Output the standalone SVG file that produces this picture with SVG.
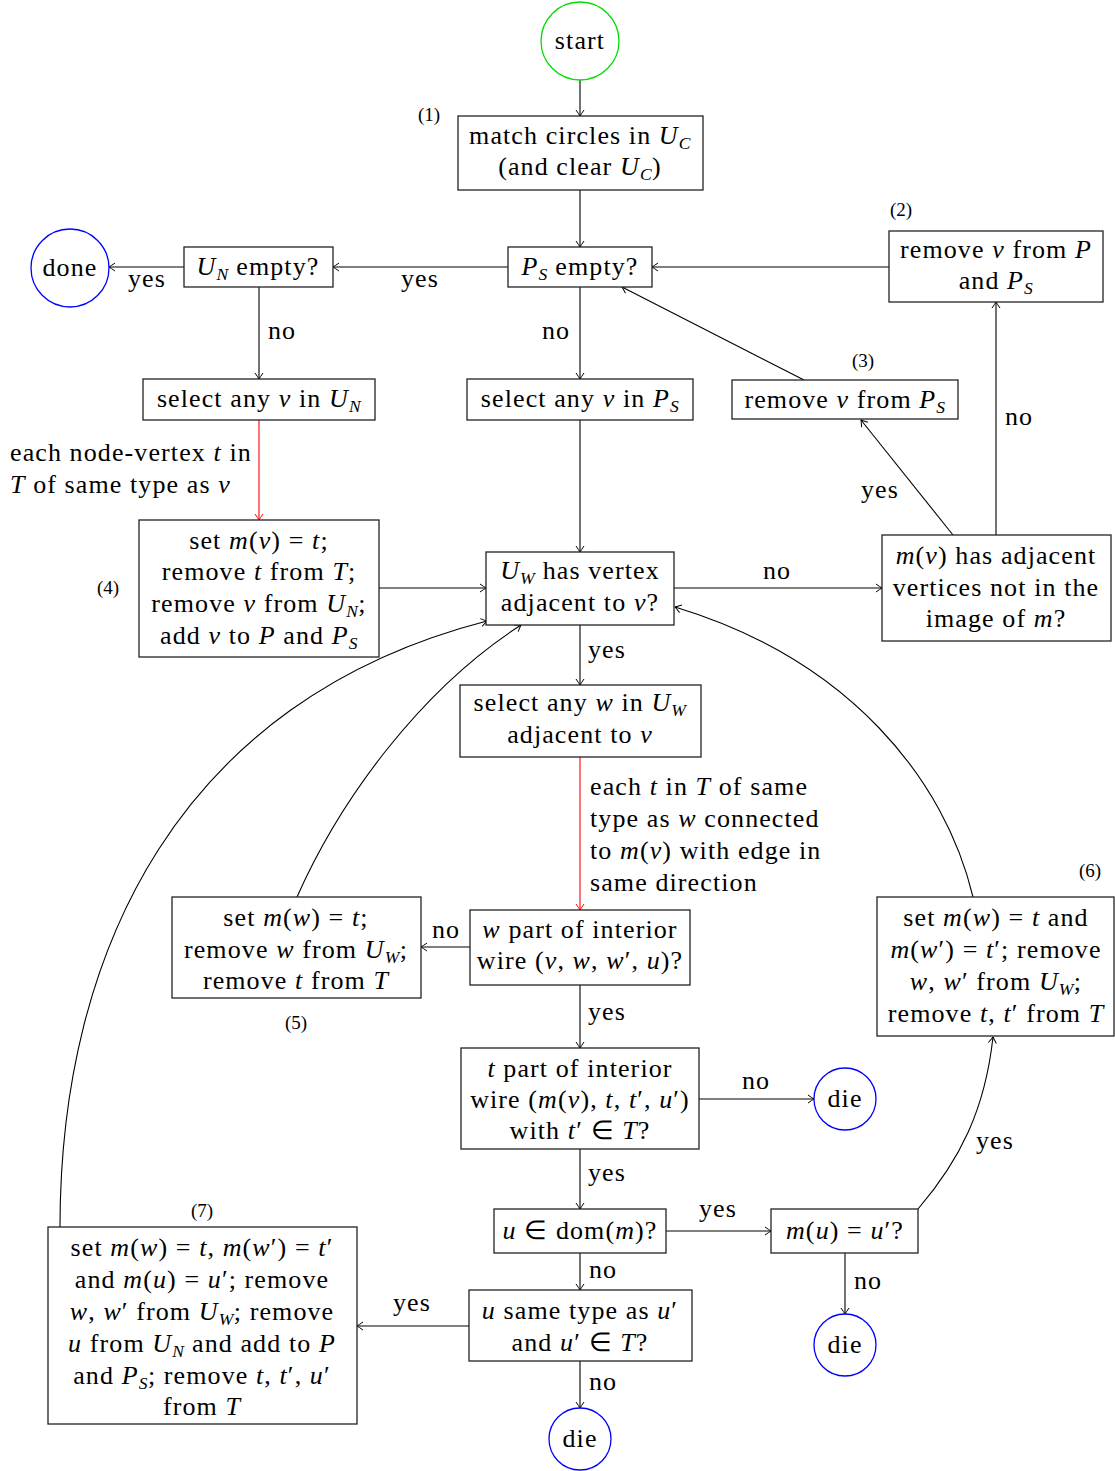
<svg xmlns="http://www.w3.org/2000/svg" width="1115" height="1471" viewBox="0 0 1115 1471">
<defs>
  <marker id="arr" viewBox="-8 -5 10 10" refX="0" refY="0" markerWidth="10" markerHeight="10" markerUnits="userSpaceOnUse" orient="auto">
    <path d="M-6,-4 Q-2,-1.2 0,0 Q-2,1.2 -6,4" fill="none" stroke="#000" stroke-width="1"/>
  </marker>
  <marker id="arrR" viewBox="-8 -5 10 10" refX="0" refY="0" markerWidth="10" markerHeight="10" markerUnits="userSpaceOnUse" orient="auto">
    <path d="M-6,-4 Q-2,-1.2 0,0 Q-2,1.2 -6,4" fill="none" stroke="#f00" stroke-width="1"/>
  </marker>
</defs>
<style>
  .box { fill: #fff; stroke: #222; stroke-width: 1.3; }
  .term { fill: #fff; stroke-width: 1.3; }
  .t { font-family: "Liberation Serif", "Times New Roman", serif; font-size: 26px; fill: #000; letter-spacing: 1.1px; }
  .c { text-anchor: middle; }
  .m { font-style: italic; }
  .s { font-size: 17.5px; font-style: italic; letter-spacing: 0.5px; }
  .n { font-family: "Liberation Serif", "Times New Roman", serif; font-size: 19px; fill: #000; text-anchor: middle; }
  .e { fill: none; stroke: #000; stroke-width: 1.1; marker-end: url(#arr); }
  .er { fill: none; stroke: #f00; stroke-width: 1.1; marker-end: url(#arrR); }
</style>
<rect width="1115" height="1471" fill="#fff"/>

<!-- connectors -->
<g id="connectors">
  <path class="e" d="M580,80 V116"/>
  <path class="e" d="M580,190 V247"/>
  <path class="e" d="M889,267 H652"/>
  <path class="e" d="M508,267 H333"/>
  <path class="e" d="M184,267 H109"/>
  <path class="e" d="M259,287 V379"/>
  <path class="e" d="M580,287 V379"/>
  <path class="er" d="M259,420 V520"/>
  <path class="e" d="M580,420 V552"/>
  <path class="e" d="M379,588 H486"/>
  <path class="e" d="M674,588 H882"/>
  <path class="e" d="M953,535 L861,420"/>
  <path class="e" d="M996,535 V302"/>
  <path class="e" d="M804,380 L622,287"/>
  <path class="e" d="M580,625 V685"/>
  <path class="er" d="M580,757 V910"/>
  <path class="e" d="M470,947 H421"/>
  <path class="e" d="M297,897 C340,800 420,690 521,625"/>
  <path class="e" d="M60,1227 C60,950 180,700 487,621"/>
  <path class="e" d="M973,897 C945,780 850,660 675,607"/>
  <path class="e" d="M580,985 V1048"/>
  <path class="e" d="M699,1099 H814"/>
  <path class="e" d="M580,1149 V1209"/>
  <path class="e" d="M666,1231 H771"/>
  <path class="e" d="M918,1209 C960,1160 985,1110 993,1037"/>
  <path class="e" d="M845,1253 V1314"/>
  <path class="e" d="M580,1253 V1290"/>
  <path class="e" d="M469,1326 H357"/>
  <path class="e" d="M580,1361 V1408"/>
</g>

<!-- connector labels -->
<g id="edge-labels" class="t c">
  <text x="420" y="287">yes</text>
  <text x="147" y="287">yes</text>
  <text x="282" y="339">no</text>
  <text x="556" y="339">no</text>
  <text x="880" y="498">yes</text>
  <text x="1019" y="425">no</text>
  <text x="777" y="579">no</text>
  <text x="607" y="658">yes</text>
  <text x="446" y="938">no</text>
  <text x="607" y="1020">yes</text>
  <text x="756" y="1089">no</text>
  <text x="607" y="1181">yes</text>
  <text x="718" y="1217">yes</text>
  <text x="603" y="1278">no</text>
  <text x="868" y="1289">no</text>
  <text x="412" y="1311">yes</text>
  <text x="603" y="1390">no</text>
  <text x="995" y="1149">yes</text>
  <text x="10" y="461" text-anchor="start">each node-vertex <tspan class="m">t</tspan> in</text>
  <text x="10" y="493" text-anchor="start"><tspan class="m">T</tspan> of same type as <tspan class="m">v</tspan></text>
  <text x="590" y="795" text-anchor="start">each <tspan class="m">t</tspan> in <tspan class="m">T</tspan> of same</text>
  <text x="590" y="827" text-anchor="start">type as <tspan class="m">w</tspan> connected</text>
  <text x="590" y="859" text-anchor="start">to <tspan class="m">m</tspan>(<tspan class="m">v</tspan>) with edge in</text>
  <text x="590" y="891" text-anchor="start">same direction</text>
</g>

<!-- step numbers -->
<g id="step-numbers">
  <text class="n" x="429" y="121">(1)</text>
  <text class="n" x="901" y="216">(2)</text>
  <text class="n" x="863" y="367">(3)</text>
  <text class="n" x="108" y="594">(4)</text>
  <text class="n" x="296" y="1029">(5)</text>
  <text class="n" x="1090" y="877">(6)</text>
  <text class="n" x="202" y="1217">(7)</text>
</g>

<g id="start">
  <circle class="term" cx="580" cy="41" r="39" stroke="#0d0"/>
  <text class="t c" x="580" y="49">start</text>
</g>

<g id="match-circles">
  <rect class="box" x="458" y="116" width="245" height="74"/>
  <text class="t c" x="580" y="144">match circles in <tspan class="m">U</tspan><tspan class="s" dy="5">C</tspan></text>
  <text class="t c" x="580" y="175">(and clear <tspan class="m">U</tspan><tspan class="s" dy="5">C</tspan><tspan dy="-5">)</tspan></text>
</g>

<g id="ps-empty">
  <rect class="box" x="508" y="247" width="144" height="40"/>
  <text class="t c" x="580" y="275"><tspan class="m">P</tspan><tspan class="s" dy="5">S</tspan><tspan dy="-5"> empty?</tspan></text>
</g>

<g id="un-empty">
  <rect class="box" x="184" y="247" width="149" height="40"/>
  <text class="t c" x="258" y="275"><tspan class="m">U</tspan><tspan class="s" dy="5">N</tspan><tspan dy="-5"> empty?</tspan></text>
</g>

<g id="done">
  <circle class="term" cx="70" cy="268" r="39" stroke="#00f"/>
  <text class="t c" x="70" y="276">done</text>
</g>

<g id="remove-v-p-ps">
  <rect class="box" x="889" y="231" width="214" height="71"/>
  <text class="t c" x="996" y="258">remove <tspan class="m">v</tspan> from <tspan class="m">P</tspan></text>
  <text class="t c" x="996" y="289">and <tspan class="m">P</tspan><tspan class="s" dy="5">S</tspan></text>
</g>

<g id="select-v-un">
  <rect class="box" x="143" y="379" width="232" height="41"/>
  <text class="t c" x="259" y="407">select any <tspan class="m">v</tspan> in <tspan class="m">U</tspan><tspan class="s" dy="5">N</tspan></text>
</g>

<g id="select-v-ps">
  <rect class="box" x="467" y="379" width="226" height="41"/>
  <text class="t c" x="580" y="407">select any <tspan class="m">v</tspan> in <tspan class="m">P</tspan><tspan class="s" dy="5">S</tspan></text>
</g>

<g id="remove-v-ps">
  <rect class="box" x="732" y="380" width="226" height="39"/>
  <text class="t c" x="845" y="408">remove <tspan class="m">v</tspan> from <tspan class="m">P</tspan><tspan class="s" dy="5">S</tspan></text>
</g>

<g id="set-mv">
  <rect class="box" x="139" y="520" width="240" height="137"/>
  <text class="t c" x="259" y="549">set <tspan class="m">m</tspan>(<tspan class="m">v</tspan>) = <tspan class="m">t</tspan>;</text>
  <text class="t c" x="259" y="580">remove <tspan class="m">t</tspan> from <tspan class="m">T</tspan>;</text>
  <text class="t c" x="259" y="612">remove <tspan class="m">v</tspan> from <tspan class="m">U</tspan><tspan class="s" dy="5">N</tspan><tspan dy="-5">;</tspan></text>
  <text class="t c" x="259" y="644">add <tspan class="m">v</tspan> to <tspan class="m">P</tspan> and <tspan class="m">P</tspan><tspan class="s" dy="5">S</tspan></text>
</g>

<g id="uw-adjacent">
  <rect class="box" x="486" y="552" width="188" height="73"/>
  <text class="t c" x="580" y="579"><tspan class="m">U</tspan><tspan class="s" dy="5">W</tspan><tspan dy="-5"> has vertex</tspan></text>
  <text class="t c" x="580" y="611">adjacent to <tspan class="m">v</tspan>?</text>
</g>

<g id="mv-adjacent">
  <rect class="box" x="882" y="535" width="229" height="106"/>
  <text class="t c" x="996" y="564"><tspan class="m">m</tspan>(<tspan class="m">v</tspan>) has adjacent</text>
  <text class="t c" x="996" y="596">vertices not in the</text>
  <text class="t c" x="996" y="627">image of <tspan class="m">m</tspan>?</text>
</g>

<g id="select-w">
  <rect class="box" x="460" y="685" width="241" height="72"/>
  <text class="t c" x="580" y="711">select any <tspan class="m">w</tspan> in <tspan class="m">U</tspan><tspan class="s" dy="5">W</tspan></text>
  <text class="t c" x="580" y="743">adjacent to <tspan class="m">v</tspan></text>
</g>

<g id="set-mw">
  <rect class="box" x="172" y="897" width="249" height="101"/>
  <text class="t c" x="296" y="926">set <tspan class="m">m</tspan>(<tspan class="m">w</tspan>) = <tspan class="m">t</tspan>;</text>
  <text class="t c" x="296" y="958">remove <tspan class="m">w</tspan> from <tspan class="m">U</tspan><tspan class="s" dy="5">W</tspan><tspan dy="-5">;</tspan></text>
  <text class="t c" x="296" y="989">remove <tspan class="m">t</tspan> from <tspan class="m">T</tspan></text>
</g>

<g id="w-interior">
  <rect class="box" x="470" y="910" width="220" height="75"/>
  <text class="t c" x="580" y="938"><tspan class="m">w</tspan> part of interior</text>
  <text class="t c" x="580" y="969">wire (<tspan class="m">v</tspan>, <tspan class="m">w</tspan>, <tspan class="m">w</tspan>′, <tspan class="m">u</tspan>)?</text>
</g>

<g id="set-mw-mw2">
  <rect class="box" x="877" y="897" width="237" height="139"/>
  <text class="t c" x="996" y="926">set <tspan class="m">m</tspan>(<tspan class="m">w</tspan>) = <tspan class="m">t</tspan> and</text>
  <text class="t c" x="996" y="958"><tspan class="m">m</tspan>(<tspan class="m">w</tspan>′) = <tspan class="m">t</tspan>′; remove</text>
  <text class="t c" x="996" y="990"><tspan class="m">w</tspan>, <tspan class="m">w</tspan>′ from <tspan class="m">U</tspan><tspan class="s" dy="5">W</tspan><tspan dy="-5">;</tspan></text>
  <text class="t c" x="996" y="1022">remove <tspan class="m">t</tspan>, <tspan class="m">t</tspan>′ from <tspan class="m">T</tspan></text>
</g>

<g id="t-interior">
  <rect class="box" x="461" y="1048" width="238" height="101"/>
  <text class="t c" x="580" y="1077"><tspan class="m">t</tspan> part of interior</text>
  <text class="t c" x="580" y="1108">wire (<tspan class="m">m</tspan>(<tspan class="m">v</tspan>), <tspan class="m">t</tspan>, <tspan class="m">t</tspan>′, <tspan class="m">u</tspan>′)</text>
  <text class="t c" x="580" y="1139">with <tspan class="m">t</tspan>′ ∈ <tspan class="m">T</tspan>?</text>
</g>

<g id="die-1">
  <circle class="term" cx="845" cy="1099" r="31" stroke="#00f"/>
  <text class="t c" x="845" y="1107">die</text>
</g>

<g id="u-in-dom">
  <rect class="box" x="494" y="1209" width="172" height="44"/>
  <text class="t c" x="580" y="1239"><tspan class="m">u</tspan> ∈ dom(<tspan class="m">m</tspan>)?</text>
</g>

<g id="mu-eq">
  <rect class="box" x="771" y="1209" width="147" height="44"/>
  <text class="t c" x="845" y="1239"><tspan class="m">m</tspan>(<tspan class="m">u</tspan>) = <tspan class="m">u</tspan>′?</text>
</g>

<g id="die-2">
  <circle class="term" cx="845" cy="1345" r="31" stroke="#00f"/>
  <text class="t c" x="845" y="1353">die</text>
</g>

<g id="u-same-type">
  <rect class="box" x="469" y="1290" width="223" height="71"/>
  <text class="t c" x="580" y="1319"><tspan class="m">u</tspan> same type as <tspan class="m">u</tspan>′</text>
  <text class="t c" x="580" y="1351">and <tspan class="m">u</tspan>′ ∈ <tspan class="m">T</tspan>?</text>
</g>

<g id="set-all">
  <rect class="box" x="48" y="1227" width="309" height="197"/>
  <text class="t c" x="202" y="1256">set <tspan class="m">m</tspan>(<tspan class="m">w</tspan>) = <tspan class="m">t</tspan>, <tspan class="m">m</tspan>(<tspan class="m">w</tspan>′) = <tspan class="m">t</tspan>′</text>
  <text class="t c" x="202" y="1288">and <tspan class="m">m</tspan>(<tspan class="m">u</tspan>) = <tspan class="m">u</tspan>′; remove</text>
  <text class="t c" x="202" y="1320"><tspan class="m">w</tspan>, <tspan class="m">w</tspan>′ from <tspan class="m">U</tspan><tspan class="s" dy="5">W</tspan><tspan dy="-5">; remove</tspan></text>
  <text class="t c" x="202" y="1352"><tspan class="m">u</tspan> from <tspan class="m">U</tspan><tspan class="s" dy="5">N</tspan><tspan dy="-5"> and add to </tspan><tspan class="m">P</tspan></text>
  <text class="t c" x="202" y="1384">and <tspan class="m">P</tspan><tspan class="s" dy="5">S</tspan><tspan dy="-5">; remove </tspan><tspan class="m">t</tspan>, <tspan class="m">t</tspan>′, <tspan class="m">u</tspan>′</text>
  <text class="t c" x="202" y="1415">from <tspan class="m">T</tspan></text>
</g>

<g id="die-3">
  <circle class="term" cx="580" cy="1439" r="31" stroke="#00f"/>
  <text class="t c" x="580" y="1447">die</text>
</g>
</svg>
